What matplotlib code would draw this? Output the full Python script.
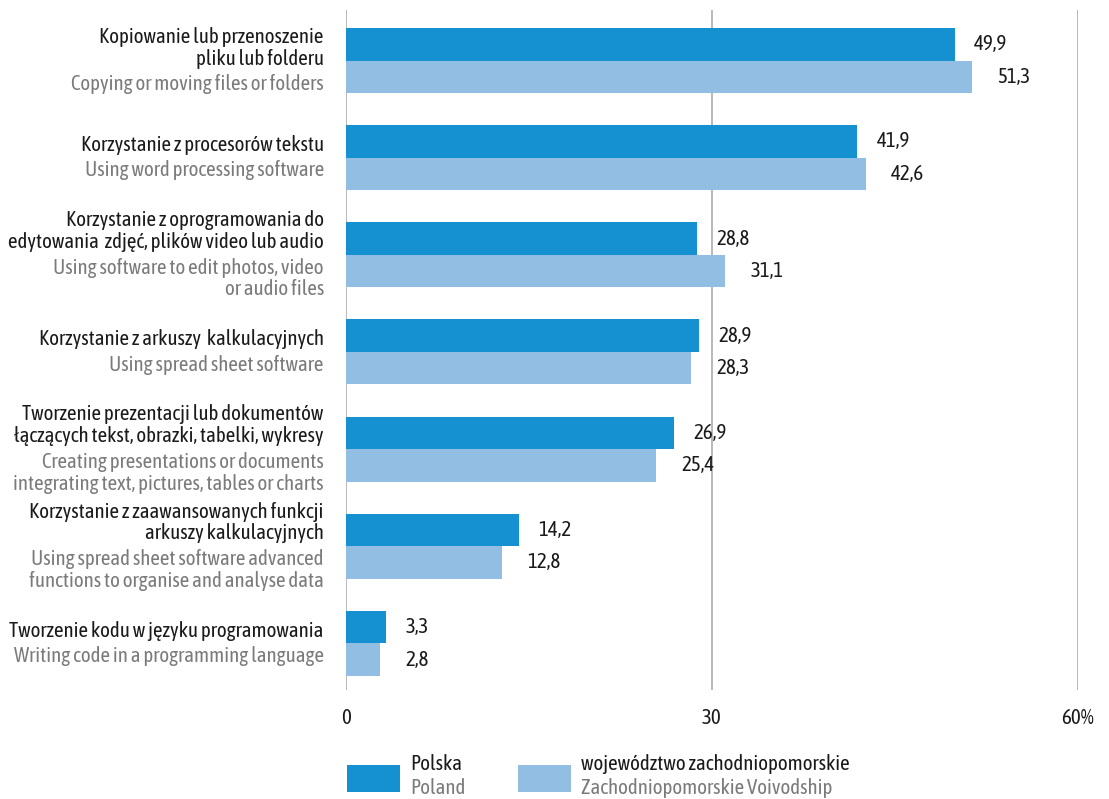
import numpy as np
import matplotlib
matplotlib.use('Agg')
import matplotlib.pyplot as plt
from matplotlib.patches import Rectangle
from matplotlib.offsetbox import TextArea, VPacker, AnnotationBbox

plt.rcParams['font.family'] = ['Asap Condensed', 'DejaVu Sans']

#----------------------------------------------------------------------
# DATA
labels_pl = [
    "Kopiowanie lub przenoszenie\npliku lub folderu",
    "Korzystanie z procesorów tekstu",
    "Korzystanie z oprogramowania do\nedytowania  zdjęć, plików video lub audio",
    "Korzystanie z arkuszy  kalkulacyjnych",
    "Tworzenie prezentacji lub dokumentów\nłączących tekst, obrazki, tabelki, wykresy",
    "Korzystanie z zaawansowanych funkcji\narkuszy kalkulacyjnych",
    "Tworzenie kodu w języku programowania",
]
labels_en = [
    "Copying or moving files or folders",
    "Using word processing software",
    "Using software to edit photos, video\nor audio files",
    "Using spread sheet software",
    "Creating presentations or documents\nintegrating text, pictures, tables or charts",
    "Using spread sheet software advanced\nfunctions to organise and analyse data",
    "Writing code in a programming language",
]
polska = [49.9, 41.9, 28.8, 28.9, 26.9, 14.2, 3.3]
zachodniopomorskie = [51.3, 42.6, 31.1, 28.3, 25.4, 12.8, 2.8]

xticks = [0, 30, 60]
xtick_labels = ['0', '30', '60%']

#----------------------------------------------------------------------
# STYLE
c_dark = '#1591d1'
c_light = '#93bee3'
c_text = '#1a1a1a'
c_grey = '#7b7b7b'
fs = 15
bar_h = 0.335

fig = plt.figure(figsize=(11.09, 7.99), dpi=100)
ax = fig.add_axes([346/1109, 1 - 690/799, (1078-346)/1109, (690-10)/799])

y = np.arange(len(polska))
ax.barh(y - bar_h/2, polska, height=bar_h, color=c_dark, zorder=2)
ax.barh(y + bar_h/2, zachodniopomorskie, height=bar_h, color=c_light, zorder=2)

# value labels with comma decimal separator
for yi, v in zip(y, polska):
    ax.annotate(f"{v:.1f}".replace('.', ','), (v, yi - bar_h/2), xytext=(14, 0),
                textcoords='offset points', ha='left', va='center', fontsize=fs, color=c_text)
for yi, v in zip(y, zachodniopomorskie):
    ax.annotate(f"{v:.1f}".replace('.', ','), (v, yi + bar_h/2), xytext=(18, 0),
                textcoords='offset points', ha='left', va='center', fontsize=fs, color=c_text)

ax.set_xlim(0, 60)
ax.set_ylim(6.48, -0.52)
ax.set_xticks(xticks)
ax.set_xticklabels(xtick_labels, fontsize=fs, color=c_text)
ax.tick_params(axis='x', length=0, pad=13)
ax.set_yticks([])
for s in ax.spines.values():
    s.set_visible(False)
ax.grid(axis='x', color='#a6a6a6', linewidth=1.1, zorder=0)
ax.set_axisbelow(True)

# two-colour category labels on the left
for yi, pl, en in zip(y, labels_pl, labels_en):
    t1 = TextArea(pl, textprops=dict(color=c_text, fontsize=fs, multialignment='right', linespacing=1.12))
    t2 = TextArea(en, textprops=dict(color=c_grey, fontsize=fs, multialignment='right', linespacing=1.12))
    box = VPacker(children=[t1, t2], align='right', pad=0, sep=4)
    ab = AnnotationBbox(box, (0, yi), xycoords=('axes fraction', 'data'),
                        xybox=(-16, 0), boxcoords='offset points',
                        box_alignment=(1, 0.5), frameon=False)
    ax.add_artist(ab)

# legend
W, H = 1109, 799
def legend_item(x, colour, pl, en):
    fig.patches.append(Rectangle((x/W, 1 - 792/H), 53/W, 27/H, transform=fig.transFigure,
                                 facecolor=colour, edgecolor='none'))
    fig.text((x + 63)/W, 1 - 764/H, pl, fontsize=fs, color=c_text, va='center')
    fig.text((x + 63)/W, 1 - 788/H, en, fontsize=fs, color=c_grey, va='center')

legend_item(347, c_dark, "Polska", "Poland")
legend_item(518, c_light, "województwo zachodniopomorskie", "Zachodniopomorskie Voivodship")

fig.savefig('out.png', dpi=100)
